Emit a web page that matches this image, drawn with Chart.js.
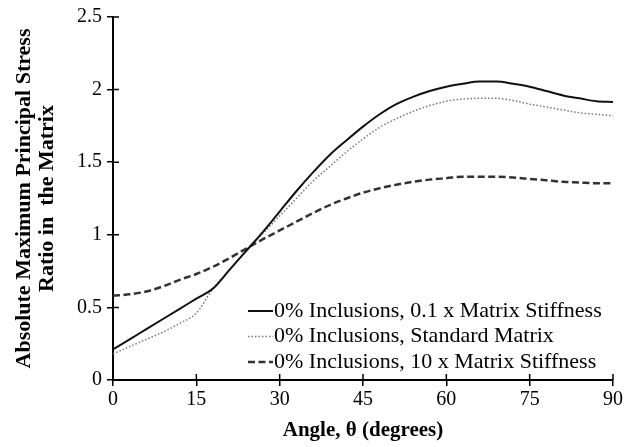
<!DOCTYPE html>
<html>
<head>
<meta charset="utf-8">
<script src="https://cdn.jsdelivr.net/npm/chart.js@4.4.0/dist/chart.umd.min.js"></script>
<style>
  html, body { margin: 0; padding: 0; background: #fff; }
  #wrap { width: 641px; height: 447px; }
</style>
</head>
<body>
<div id="wrap"><canvas id="chart" width="641" height="447"></canvas></div>
<script>
// angle (degrees) and stress ratio
const angles = [0, 3, 6, 9, 12, 15, 18, 21, 24, 27, 30, 33, 36, 39, 42, 45, 48, 51, 54, 57, 60, 63, 66, 69, 72, 75, 78, 81, 84, 87, 90];
const soft = [0.21, 0.28, 0.35, 0.42, 0.49, 0.56, 0.63, 0.76, 0.89, 1.02, 1.16, 1.30, 1.43, 1.55, 1.65, 1.745, 1.83, 1.90, 1.95, 1.99, 2.02, 2.04, 2.055, 2.055, 2.04, 2.02, 1.99, 1.96, 1.94, 1.92, 1.915];
const standard = [0.18, 0.23, 0.28, 0.33, 0.39, 0.46, 0.63, 0.76, 0.89, 1.01, 1.13, 1.25, 1.37, 1.47, 1.57, 1.66, 1.74, 1.80, 1.85, 1.89, 1.92, 1.935, 1.94, 1.94, 1.925, 1.90, 1.88, 1.86, 1.84, 1.83, 1.82];
const stiff = [0.58, 0.59, 0.61, 0.645, 0.69, 0.73, 0.78, 0.84, 0.905, 0.97, 1.03, 1.09, 1.15, 1.205, 1.25, 1.29, 1.32, 1.345, 1.365, 1.38, 1.39, 1.40, 1.40, 1.40, 1.395, 1.385, 1.375, 1.365, 1.36, 1.355, 1.355];
const seriesNames = [
  '0% Inclusions, 0.1 x Matrix Stiffness',
  '0% Inclusions, Standard Matrix',
  '0% Inclusions, 10 x Matrix Stiffness'
];

const SERIF = "'Liberation Serif', 'DejaVu Serif', serif";
const pts = vals => angles.map((a, i) => ({ x: a, y: vals[i] }));

// ticks that cross the axis line (inner half)
const innerTicks = {
  id: 'innerTicks',
  afterDraw(chart) {
    const { ctx, chartArea } = chart;
    const xs = chart.scales.x, ys = chart.scales.y;
    ctx.save();
    ctx.strokeStyle = '#000';
    ctx.lineWidth = 1.5;
    ctx.beginPath();
    xs.ticks.forEach(t => {
      const px = xs.getPixelForValue(t.value);
      ctx.moveTo(px, chartArea.bottom);
      ctx.lineTo(px, chartArea.bottom - 6);
    });
    ys.ticks.forEach(t => {
      const py = ys.getPixelForValue(t.value);
      ctx.moveTo(chartArea.left, py);
      ctx.lineTo(chartArea.left + 6, py);
    });
    ctx.stroke();
    ctx.restore();
  }
};

// legend drawn inside the plot area, bottom right
const insideLegend = {
  id: 'insideLegend',
  afterDraw(chart) {
    const { ctx, chartArea } = chart;
    const x0 = chartArea.left + 135;
    const y0 = chartArea.top + 294;
    ctx.save();
    ctx.font = "22px " + SERIF;
    ctx.fillStyle = '#000';
    ctx.textBaseline = 'middle';
    chart.data.datasets.forEach((ds, i) => {
      const y = y0 + i * 25.5;
      ctx.beginPath();
      ctx.strokeStyle = ds.borderColor;
      ctx.lineWidth = ds.borderWidth;
      ctx.setLineDash(ds.borderDash || []);
      ctx.moveTo(x0, y);
      ctx.lineTo(x0 + 25, y);
      ctx.stroke();
      ctx.setLineDash([]);
      ctx.fillText(ds.label, x0 + 26, y);
    });
    ctx.restore();
  }
};

new Chart(document.getElementById('chart'), {
  type: 'line',
  data: {
    datasets: [
      { label: seriesNames[0], data: pts(soft), borderColor: '#111', borderWidth: 2, pointRadius: 0, cubicInterpolationMode: 'monotone' },
      { label: seriesNames[1], data: pts(standard), borderColor: '#777', borderWidth: 1.5, borderDash: [1.5, 2], pointRadius: 0, cubicInterpolationMode: 'monotone' },
      { label: seriesNames[2], data: pts(stiff), borderColor: '#333', borderWidth: 2.5, borderDash: [7, 3.5], pointRadius: 0, cubicInterpolationMode: 'monotone' }
    ]
  },
  options: {
    responsive: false,
    animation: false,
    layout: { padding: { top: 14, right: 28, left: 0, bottom: 0 } },
    plugins: { legend: { display: false }, tooltip: { enabled: false } },
    scales: {
      x: {
        type: 'linear', min: 0, max: 90,
        ticks: { stepSize: 15, color: '#000', font: { family: SERIF, size: 20 }, padding: 2 },
        grid: { drawOnChartArea: false, color: '#000', lineWidth: 1.5, tickLength: 6 },
        border: { color: '#000', width: 2 },
        title: { display: true, text: 'Angle, θ (degrees)', color: '#000', font: { family: SERIF, size: 21, weight: 'bold' }, padding: { top: 4, bottom: 4 } },
        afterFit: s => { s.height = 67; }
      },
      y: {
        min: 0, max: 2.5,
        ticks: { stepSize: 0.5, color: '#000', font: { family: SERIF, size: 20 }, padding: 5, callback: v => String(v) },
        grid: { drawOnChartArea: false, color: '#000', lineWidth: 1.5, tickLength: 6 },
        border: { color: '#000', width: 2 },
        title: { display: true, text: ['Absolute Maximum Principal Stress', 'Ratio in  the Matrix'], color: '#000', font: { family: SERIF, size: 22, weight: 'bold', lineHeight: 1.05 }, padding: { top: 13, bottom: 0 } },
        afterFit: s => { s.width = 113; }
      }
    }
  },
  plugins: [innerTicks, insideLegend]
});
</script>
</body>
</html>
